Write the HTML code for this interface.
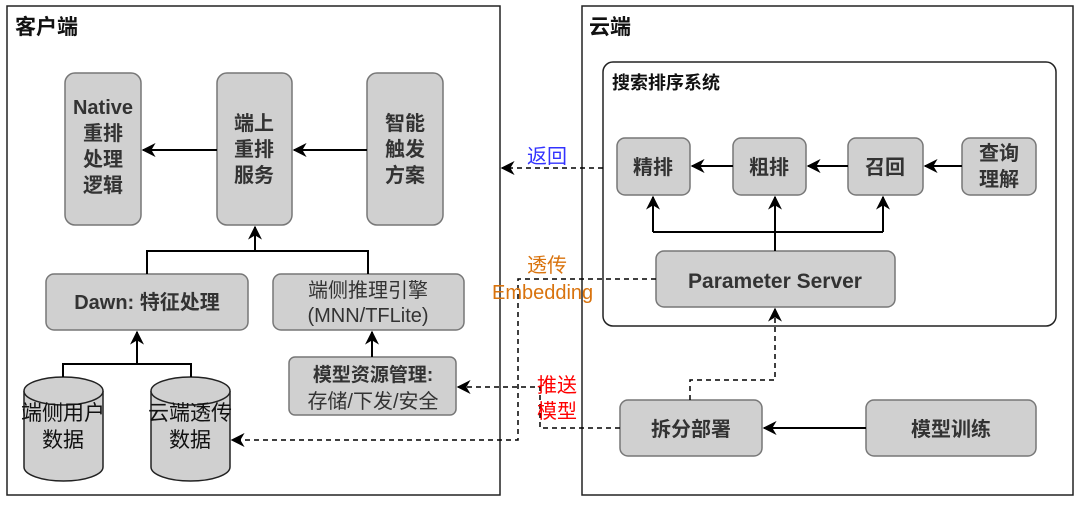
<!DOCTYPE html>
<html><head><meta charset="utf-8"><style>
body{margin:0;background:#fff;}
text{font-family:"Liberation Sans","Noto Sans CJK SC",sans-serif;fill:#333;}
</style></head><body>
<svg width="1080" height="502" viewBox="0 0 1080 502" xmlns="http://www.w3.org/2000/svg">
<defs>
<marker id="b" viewBox="0 0 10 10" refX="9" refY="5" markerWidth="14" markerHeight="14" orient="auto" markerUnits="userSpaceOnUse"><path d="M0,0 L10,5 L0,10 L3,5 Z" fill="#000"/></marker>
</defs>
<g fill="none" stroke="#222" stroke-width="1.5">
<rect x="7" y="6" width="493" height="489"/>
<rect x="582" y="6" width="491" height="489"/>
<rect x="603" y="62" width="453" height="264" rx="10"/>
</g>
<text x="15" y="34" font-size="21" font-weight="bold" style="fill:#111">客户端</text>
<text x="589" y="34" font-size="21" font-weight="bold" style="fill:#111">云端</text>
<text x="612" y="89" font-size="18" font-weight="bold" style="fill:#111">搜索排序系统</text>
<g fill="#d0d0d0" stroke="#777" stroke-width="1.5">
<rect x="65" y="73" width="76" height="152" rx="10"/>
<rect x="217" y="73" width="75" height="152" rx="10"/>
<rect x="367" y="73" width="76" height="152" rx="10"/>
<rect x="46" y="274" width="202" height="56" rx="8"/>
<rect x="273" y="274" width="191" height="56" rx="8"/>
<rect x="289" y="357" width="167" height="58" rx="6"/>
<rect x="617" y="138" width="73" height="57" rx="8"/>
<rect x="733" y="138" width="73" height="57" rx="8"/>
<rect x="848" y="138" width="75" height="57" rx="8"/>
<rect x="962" y="138" width="74" height="57" rx="8"/>
<rect x="656" y="251" width="239" height="56" rx="8"/>
<rect x="620" y="400" width="142" height="56" rx="8"/>
<rect x="866" y="400" width="170" height="56" rx="8"/>
</g>
<g fill="#d0d0d0" stroke="#222" stroke-width="1.5">
<path d="M24,391 v76 a39.5,14 0 0 0 79,0 v-76"/>
<ellipse cx="63.5" cy="391" rx="39.5" ry="14"/>
<path d="M151,391 v76 a39.5,14 0 0 0 79,0 v-76"/>
<ellipse cx="190.5" cy="391" rx="39.5" ry="14"/>
</g>
<g font-size="20" text-anchor="middle" font-weight="bold">
<text x="103" y="114">Native</text><text x="103" y="140">重排</text><text x="103" y="166">处理</text><text x="103" y="192">逻辑</text>
<text x="254" y="130">端上</text><text x="254" y="156">重排</text><text x="254" y="182">服务</text>
<text x="405" y="130">智能</text><text x="405" y="156">触发</text><text x="405" y="182">方案</text>
<text x="147" y="309">Dawn: 特征处理</text>
<text x="368" y="297" font-weight="normal">端侧推理引擎</text><text x="368" y="322" font-weight="normal">(MNN/TFLite)</text>
<text x="373" y="381" font-size="19">模型资源管理:</text><text x="373" y="408" font-weight="normal">存储/下发/安全</text>
<text x="653" y="174">精排</text><text x="769" y="174">粗排</text><text x="885" y="174">召回</text>
<text x="999" y="160">查询</text><text x="999" y="186">理解</text>
<text x="775" y="288" font-size="21">Parameter Server</text>
<text x="691" y="436">拆分部署</text><text x="951" y="436">模型训练</text>
</g>
<g font-size="21" text-anchor="middle" style="fill:#111">
<text x="63" y="420" style="fill:#111">端侧用户</text><text x="63" y="447" style="fill:#111">数据</text>
<text x="190" y="420" style="fill:#111">云端透传</text><text x="190" y="447" style="fill:#111">数据</text>
</g>
<g stroke="#000" stroke-width="2" fill="none">
<line x1="217" y1="150" x2="143" y2="150" marker-end="url(#b)"/>
<line x1="367" y1="150" x2="294" y2="150" marker-end="url(#b)"/>
<polyline points="147,274 147,251 368,251 368,274"/>
<line x1="255" y1="251" x2="255" y2="227" marker-end="url(#b)"/>
<polyline points="63,377 63,364 191,364 191,377"/>
<line x1="137" y1="364" x2="137" y2="332" marker-end="url(#b)"/>
<line x1="372" y1="357" x2="372" y2="332" marker-end="url(#b)"/>
<line x1="733" y1="166" x2="692" y2="166" marker-end="url(#b)"/>
<line x1="848" y1="166" x2="808" y2="166" marker-end="url(#b)"/>
<line x1="962" y1="166" x2="925" y2="166" marker-end="url(#b)"/>
<polyline points="653,232 883,232"/>
<line x1="653" y1="232" x2="653" y2="197" marker-end="url(#b)"/>
<line x1="883" y1="232" x2="883" y2="197" marker-end="url(#b)"/>
<line x1="775" y1="251" x2="775" y2="197" marker-end="url(#b)"/>
<line x1="866" y1="428" x2="764" y2="428" marker-end="url(#b)"/>
</g>
<g stroke="#000" stroke-width="1.5" fill="none" stroke-dasharray="5,4">
<line x1="603" y1="168" x2="502" y2="168" marker-end="url(#b)"/>
<polyline points="656,279 518,279 518,440 232,440" marker-end="url(#b)"/>
<polyline points="620,428 540,428 540,387 458,387" marker-end="url(#b)"/>
<polyline points="690,400 690,380 775,380 775,309" marker-end="url(#b)"/>
</g>
<text x="527" y="163" font-size="20" style="fill:#3333ff">返回</text>
<text x="527" y="272" font-size="20" style="fill:#d9730d">透传</text>
<text x="492" y="299" font-size="20" style="fill:#d9730d">Embedding</text>
<text x="537" y="392" font-size="20" style="fill:#ff0000">推送</text>
<text x="537" y="418" font-size="20" style="fill:#ff0000">模型</text>
</svg>
</body></html>
